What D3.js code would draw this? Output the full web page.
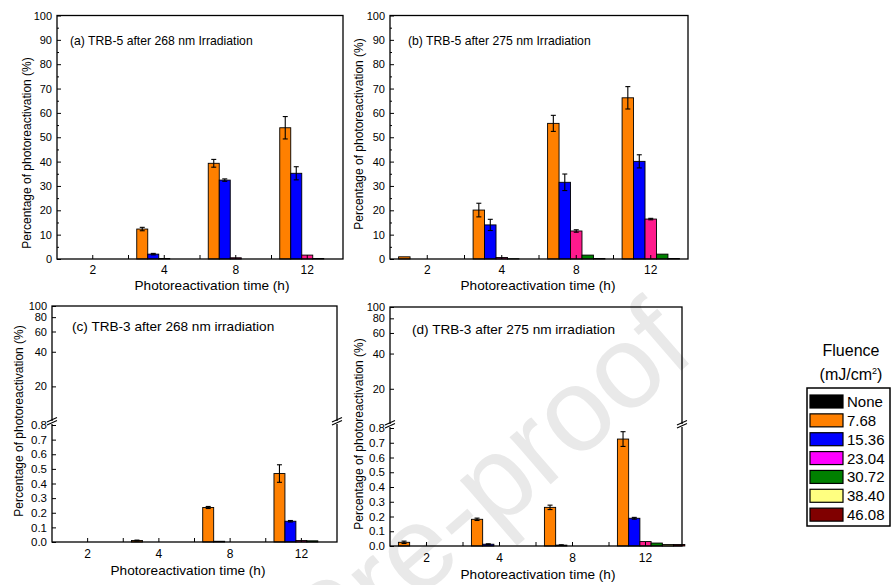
<!DOCTYPE html>
<html>
<head>
<meta charset="utf-8">
<script src="https://cdnjs.cloudflare.com/ajax/libs/d3/7.8.5/d3.min.js"></script>
<style>
    body { margin: 0; background: #fff; }
    svg { font-family: Arial, "Liberation Sans", sans-serif; }
</style>
</head>
<body>
<div id="chart"></div>
<script>
const times = ["2", "4", "8", "12"];
const fluences = ["None", "7.68", "15.36", "23.04", "30.72", "38.40", "46.08"];

// rows = photoreactivation time, columns = fluence
const trb5_268 = [
    [0, 0, 0, 0, 0, 0, 0],
    [0, 12.3, 2.0, 0.2, 0, 0, 0],
    [0, 39.3, 32.4, 0.5, 0, 0, 0],
    [0, 53.9, 35.2, 1.6, 0.2, 0, 0]
];
const trb5_268_err = [
    [0, 0, 0, 0, 0, 0, 0],
    [0, 0.7, 0.3, 0, 0, 0, 0],
    [0, 1.6, 0.5, 0, 0, 0, 0],
    [0, 4.6, 2.7, 0, 0, 0, 0]
];
const trb5_275 = [
    [0, 0.9, 0, 0, 0, 0, 0],
    [0, 20.1, 14.0, 0.6, 0.1, 0, 0],
    [0, 55.7, 31.5, 11.5, 1.6, 0.2, 0],
    [0, 66.2, 40.1, 16.4, 2.0, 0.2, 0]
];
const trb5_275_err = [
    [0, 0, 0, 0, 0, 0, 0],
    [0, 2.8, 2.3, 0, 0, 0, 0],
    [0, 3.3, 3.4, 0.5, 0, 0, 0],
    [0, 4.6, 2.7, 0.3, 0, 0, 0]
];
const trb3_268 = [
    [0, 0, 0, 0, 0, 0, 0],
    [0, 0.01, 0, 0, 0, 0, 0],
    [0, 0.236, 0.005, 0, 0, 0, 0],
    [0, 0.468, 0.142, 0.01, 0.008, 0, 0]
];
const trb3_268_err = [
    [0, 0, 0, 0, 0, 0, 0],
    [0, 0.003, 0, 0, 0, 0, 0],
    [0, 0.007, 0, 0, 0, 0, 0],
    [0, 0.06, 0.005, 0, 0, 0, 0]
];
const trb3_275 = [
    [0, 0.025, 0, 0, 0, 0, 0],
    [0, 0.181, 0.012, 0, 0, 0, 0],
    [0, 0.262, 0.006, 0, 0, 0, 0],
    [0, 0.725, 0.188, 0.03, 0.02, 0.01, 0.01]
];
const trb3_275_err = [
    [0, 0.008, 0, 0, 0, 0, 0],
    [0, 0.008, 0.003, 0, 0, 0, 0],
    [0, 0.015, 0.002, 0, 0, 0, 0],
    [0, 0.05, 0.006, 0, 0, 0, 0]
];
const linearTicks = [0, 10, 20, 30, 40, 50, 60, 70, 80, 90, 100];
const lowTicks = [0, 0.1, 0.2, 0.3, 0.4, 0.5, 0.6, 0.7, 0.8];
const highTicks = [20, 40, 60, 80, 100];

const barColors = ["#000000", "#ff8000", "#0000ff", "#ff1a8c", "#008000", "#ffff80", "#800000"];
const legendColors = ["#000000", "#ff8000", "#0000ff", "#ff00ff", "#008000", "#ffff80", "#800000"];

const svg = d3.select("#chart")
    .append("svg")
    .attr("width", 894)
    .attr("height", 585);

// faint watermark behind everything
svg.append("text")
    .attr("transform", "translate(698,356) rotate(-41)")
    .attr("text-anchor", "end")
    .style("font-size", "118px")
    .attr("fill", "#e9e9e9")
    .text("Journal Pre-proof");

const panels = [
    { values: trb5_268, errors: trb5_268_err, label: "(a) TRB-5 after 268 nm Irradiation",
      x0: 57, x1: 343, y0: 15.5, y1: 259, broken: false,
      labelX: 70, labelY: 45, labelSize: 12.2, yTitleX: 27, yTitleY: 153, xTitleX: 212, xTitleY: 290 },
    { values: trb5_275, errors: trb5_275_err, label: "(b) TRB-5 after 275 nm Irradiation",
      x0: 390, x1: 688, y0: 15.5, y1: 259, broken: false,
      labelX: 408, labelY: 45, labelSize: 12.2, yTitleX: 359, yTitleY: 134, xTitleX: 538, xTitleY: 290 },
    { values: trb3_268, errors: trb3_268_err, label: "(c) TRB-3 after 268 nm irradiation",
      x0: 52, x1: 337, y0: 306, y1: 542, yb: 425, broken: true,
      labelX: 72, labelY: 331, labelSize: 13.6, yTitleX: 19, yTitleY: 421, xTitleX: 188, xTitleY: 575 },
    { values: trb3_275, errors: trb3_275_err, label: "(d) TRB-3 after 275 nm irradiation",
      x0: 390, x1: 682, y0: 307, y1: 546, yb: 428, broken: true,
      labelX: 412, labelY: 334, labelSize: 13.6, yTitleX: 359, yTitleY: 434, xTitleX: 538, xTitleY: 579 }
];

function styleAxis(sel, size) {
    sel.select(".domain").remove();
    sel.selectAll(".tick line").attr("stroke", "#000").attr("stroke-width", 1);
    sel.selectAll(".tick text").attr("fill", "#000").style("font-size", size + "px");
}

function drawPanel(p) {
    const g = svg.append("g");

    const x = d3.scaleBand().domain(times).range([p.x0, p.x1]).padding(0);
    const groupW = x.bandwidth() * 1.077;
    const xs = d3.scaleBand().domain(fluences).range([-groupW / 2, groupW / 2]);

    let y;
    if (!p.broken) {
        const yl = d3.scaleLinear().domain([0, 100]).range([p.y1, p.y0]);
        y = yl;
        g.append("g")
            .attr("transform", `translate(${p.x0},0)`)
            .call(d3.axisLeft(yl).tickValues(linearTicks).tickFormat(d3.format("d")).tickSize(-4).tickPadding(5))
            .call(s => styleAxis(s, 11));
        g.append("g")
            .attr("transform", `translate(${p.x0},0)`)
            .call(d3.axisLeft(yl).tickValues(linearTicks.slice(1).map(v => v - 5)).tickFormat("").tickSize(-2))
            .call(s => styleAxis(s, 11));
    } else {
        const yl = d3.scaleLinear().domain([0, 0.8]).range([p.y1, p.yb]);
        const yu = d3.scaleLog().domain([10, 100]).range([p.yb - 4, p.y0]);
        y = v => (v <= 0.8 ? yl(v) : yu(v));
        g.append("g")
            .attr("transform", `translate(${p.x0},0)`)
            .call(d3.axisLeft(yl).tickValues(lowTicks).tickFormat(d3.format(".1f")).tickSize(-4).tickPadding(5))
            .call(s => styleAxis(s, 11.5));
        g.append("g")
            .attr("transform", `translate(${p.x0},0)`)
            .call(d3.axisLeft(yu).tickValues(highTicks).tickFormat(d3.format("d")).tickSize(-4).tickPadding(5))
            .call(s => styleAxis(s, 11));
    }

    // bars
    p.values.forEach((row, i) => {
        const cx = x(times[i]) + x.bandwidth() / 2;
        row.forEach((v, j) => {
            g.append("rect")
                .attr("x", cx + xs(fluences[j]))
                .attr("y", y(v))
                .attr("width", xs.bandwidth())
                .attr("height", y(0) - y(v))
                .attr("fill", barColors[j])
                .attr("stroke", "#000")
                .attr("stroke-width", 0.9);

            const e = p.errors[i][j];
            if (e > 0) {
                const ex = cx + xs(fluences[j]) + xs.bandwidth() / 2;
                g.append("line")
                    .attr("x1", ex).attr("x2", ex)
                    .attr("y1", y(Math.max(v - e, 0))).attr("y2", y(v + e))
                    .attr("stroke", "#000").attr("stroke-width", 1.1);
                [v - e, v + e].forEach(c => {
                    g.append("line")
                        .attr("x1", ex - 2.5).attr("x2", ex + 2.5)
                        .attr("y1", y(Math.max(c, 0))).attr("y2", y(Math.max(c, 0)))
                        .attr("stroke", "#000").attr("stroke-width", 1.1);
                });
            }
        });
    });

    // x axis: ticks at group centres, small ones at the group borders
    g.append("g")
        .attr("transform", `translate(0,${p.y1})`)
        .call(d3.axisBottom(x).tickSize(-4).tickPadding(p.broken ? 7 : 6))
        .call(s => styleAxis(s, 12));
    times.slice(1).forEach(t => {
        g.append("line")
            .attr("x1", x(t)).attr("x2", x(t))
            .attr("y1", p.y1).attr("y2", p.y1 - 4)
            .attr("stroke", "#000");
    });

    // frame
    g.append("rect")
        .attr("x", p.x0).attr("y", p.y0)
        .attr("width", p.x1 - p.x0).attr("height", p.y1 - p.y0)
        .attr("fill", "none")
        .attr("stroke", "#000")
        .attr("stroke-width", 1.3);

    // axis break marks
    if (p.broken) {
        [p.x0, p.x1].forEach(bx => {
            const by = p.yb - 2;
            g.append("rect")
                .attr("x", bx - 2).attr("y", by - 2)
                .attr("width", 4).attr("height", 3)
                .attr("fill", "#fff");
            [0, 3].forEach(off => {
                g.append("line")
                    .attr("x1", bx - 5).attr("y1", by + 2 - off)
                    .attr("x2", bx + 5).attr("y2", by - 2.5 - off)
                    .attr("stroke", "#000").attr("stroke-width", 1.1);
            });
        });
    }

    // texts
    g.append("text")
        .attr("x", p.labelX).attr("y", p.labelY)
        .style("font-size", p.labelSize + "px")
        .text(p.label);

    g.append("text")
        .attr("transform", `translate(${p.yTitleX},${p.yTitleY}) rotate(-90)`)
        .attr("text-anchor", "middle")
        .attr("dy", "0.35em")
        .style("font-size", "12px")
        .text("Percentage of photoreactivation (%)");

    g.append("text")
        .attr("x", p.xTitleX).attr("y", p.xTitleY)
        .attr("text-anchor", "middle")
        .style("font-size", "13.6px")
        .text("Photoreactivation time (h)");
}

panels.forEach(drawPanel);

// legend
const legend = svg.append("g");
legend.append("text")
    .attr("x", 851).attr("y", 356)
    .attr("text-anchor", "middle")
    .style("font-size", "16px")
    .text("Fluence");
const unit = legend.append("text")
    .attr("x", 851).attr("y", 380)
    .attr("text-anchor", "middle")
    .style("font-size", "16px");
unit.append("tspan").text("(mJ/cm");
unit.append("tspan").attr("dy", -6).style("font-size", "9px").text("2");
unit.append("tspan").attr("dy", 6).text(")");

legend.append("rect")
    .attr("x", 807).attr("y", 388)
    .attr("width", 83).attr("height", 138)
    .attr("fill", "#fff")
    .attr("stroke", "#000")
    .attr("stroke-width", 1.5);

const ly = d3.scaleBand().domain(fluences).range([392, 524]);
fluences.forEach((f, j) => {
    legend.append("rect")
        .attr("x", 810).attr("y", ly(f) + 3)
        .attr("width", 33).attr("height", 13)
        .attr("fill", legendColors[j])
        .attr("stroke", "#000")
        .attr("stroke-width", 1.2);
    legend.append("text")
        .attr("x", 847).attr("y", ly(f) + 15)
        .style("font-size", "15px")
        .text(f);
});
</script>
</body>
</html>
